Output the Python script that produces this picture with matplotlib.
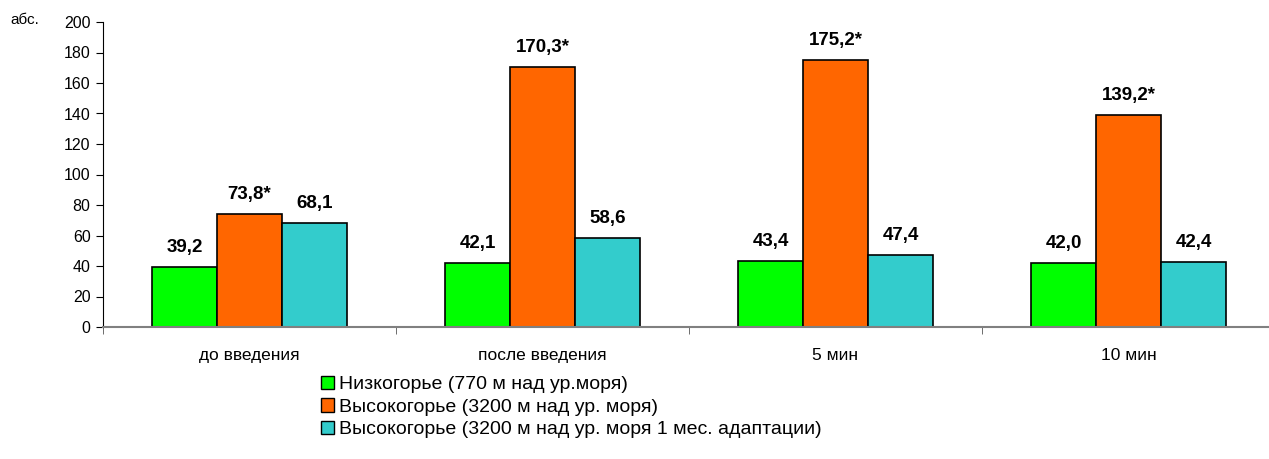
import numpy as np
import matplotlib.pyplot as plt
from matplotlib.patches import Patch

plt.rcParams['font.family'] = ['Liberation Sans', 'DejaVu Sans']

# data
categories = ['до введения', 'после введения', '5 мин', '10 мин']
series_names = ['Низкогорье (770 м над ур.моря)',
                'Высокогорье (3200 м над ур. моря)',
                'Высокогорье (3200 м над ур. моря 1 мес. адаптации)']
low = [39.2, 42.1, 43.4, 42.0]
high = [73.8, 170.3, 175.2, 139.2]
adapt = [68.1, 58.6, 47.4, 42.4]
labels_low = ['39,2', '42,1', '43,4', '42,0']
labels_high = ['73,8*', '170,3*', '175,2*', '139,2*']
labels_adapt = ['68,1', '58,6', '47,4', '42,4']
colors = ['#00FF00', '#FF6600', '#33CCCC']

fig = plt.figure(figsize=(12.69, 4.59), dpi=100)
ax = fig.add_axes([103 / 1269, 132 / 459, 1172 / 1269, 305 / 459])

x = np.arange(len(categories))
w = 0.222
for i, (vals, labs) in enumerate([(low, labels_low), (high, labels_high), (adapt, labels_adapt)]):
    pos = x + (i - 1) * w
    ax.bar(pos, vals, width=w, color=colors[i], edgecolor='black', linewidth=1.2)
    for p, v, t in zip(pos, vals, labs):
        ax.annotate(t, (p, v), xytext=(0, 8), textcoords='offset points',
                    ha='center', va='bottom', fontsize=13.5, fontweight='bold')

ax.set_xlim(-0.5, len(categories) - 0.5)
ax.set_ylim(0, 200)
ax.set_yticks(np.arange(0, 201, 20))
ax.tick_params(axis='y', labelsize=11.5, length=5, direction='out', pad=4)

ax.set_xticks(x)
ax.set_xticklabels(categories, fontsize=12.5)
ax.set_xticks(np.arange(-0.5, len(categories), 1), minor=True)
ax.tick_params(axis='x', which='major', length=0, pad=15)
ax.tick_params(axis='x', which='minor', length=5, color='#555555')

for s in ['top', 'right']:
    ax.spines[s].set_visible(False)
ax.spines['left'].set_color('black')
ax.spines['bottom'].set_color('#808080')
ax.spines['bottom'].set_linewidth(1.5)

fig.text(10 / 1269, 1 - 20 / 459, 'абс.', fontsize=11, va='center', ha='left')

handles = [Patch(facecolor=c, edgecolor='black') for c in colors]
fig.legend(handles, series_names, loc='upper left', bbox_to_anchor=(311 / 1269, 1 - 366 / 459),
           frameon=False, fontsize=14, handlelength=0.7, handleheight=0.7,
           handletextpad=0.25, labelspacing=0.25, borderpad=0)

fig.savefig('out.png', dpi=100)
